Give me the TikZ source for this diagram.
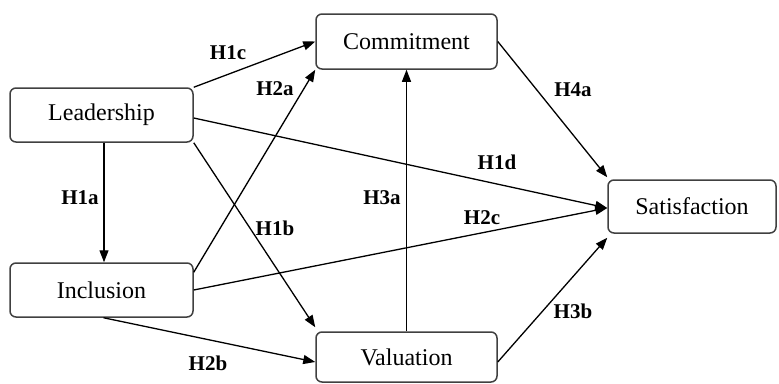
\documentclass[tikz,border=0pt]{standalone}
\usepackage{fontspec}
\setmainfont{Liberation Serif}
\usetikzlibrary{arrows.meta}
\begin{document}
\begin{tikzpicture}[x=1pt,y=-1pt,
  box/.style={draw=black!75,line width=1.5pt,rounded corners=6pt,inner sep=0pt,
    font=\fontsize{24}{26}\selectfont},
  conn/.style={line width=1.3pt,-{Triangle[length=12pt,width=9pt]}},
  lbl/.style={font=\fontsize{21}{23}\selectfont\bfseries,inner sep=0pt}]
\useasboundingbox (0,0) rectangle (779,383);
\node[box,minimum width=183pt,minimum height=54pt] (lead) at (101.5,115) {Leadership};
\node[box,minimum width=181pt,minimum height=55pt] (comm) at (406.5,41.5) {Commitment};
\node[box,minimum width=183pt,minimum height=54pt] (incl) at (101.5,290) {Inclusion};
\node[box,minimum width=181pt,minimum height=50pt] (val) at (406.5,357) {Valuation};
\node[box,minimum width=168pt,minimum height=53pt] (sat) at (692,206.5) {Satisfaction};

\draw[conn] ([xshift=2.5pt]lead.south) -- ([xshift=2.5pt]incl.north);
\draw[conn] (lead.north east) -- (comm.west);
\draw[conn] ([yshift=-10pt]incl.north east) -- (comm.south west);
\draw[conn] ([yshift=-3pt]lead.east) -- ([yshift=-1.5pt]sat.west);
\draw[conn] (lead.south east) -- ([yshift=4pt]val.north west);
\draw[conn] (incl.east) -- ([yshift=-1.5pt]sat.west);
\draw[conn] ([xshift=2pt]incl.south) -- ([yshift=-5pt]val.west);
\draw[conn] (val.north) -- (comm.south);
\draw[conn] (comm.east) -- ([yshift=2pt]sat.north west);
\draw[conn] ([yshift=-5pt]val.east) -- ([yshift=-4pt]sat.south west);

\node[lbl] (l1c) at (228,53) {H1c};
\node[lbl] (l2a) at (275,89) {H2a};
\node[lbl] (l1a) at (80,198) {H1a};
\node[lbl] (l1b) at (275,228) {H1b};
\node[lbl] (l3a) at (382,198) {H3a};
\node[lbl] (l1d) at (497,162) {H1d};
\node[lbl] (l2c) at (482,218) {H2c};
\node[lbl] (l4a) at (573,90) {H4a};
\node[lbl] (l3b) at (573,311) {H3b};
\node[lbl] (l2b) at (208,363) {H2b};
\end{tikzpicture}
\end{document}
